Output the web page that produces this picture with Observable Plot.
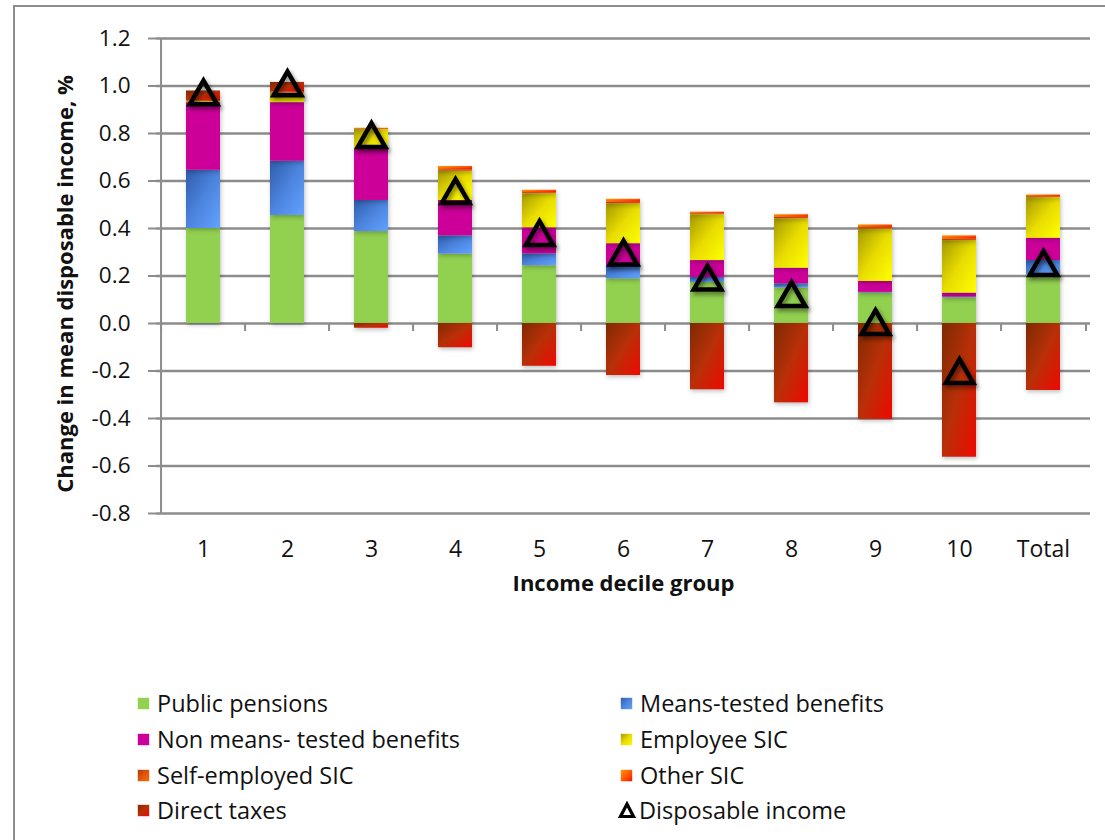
<!DOCTYPE html>
<html>
<head>
<meta charset="utf-8">
<script src="https://cdn.jsdelivr.net/npm/d3@7"></script>
<script src="https://cdn.jsdelivr.net/npm/@observablehq/plot@0.6"></script>
<style>
  html, body { margin: 0; padding: 0; background: #fff; }
  body { width: 1105px; height: 840px; overflow: hidden; position: relative; font-family: "Open Sans", sans-serif; }
  #frame { position: absolute; left: 13px; top: 5px; width: 1200px; height: 1000px; border: 2px solid #8c8c8c; box-sizing: border-box; }
  #chart { position: absolute; left: 0; top: 0; }
  #chart g[aria-label="bar"] rect { filter: drop-shadow(1px 2px 2px rgba(0,0,0,0.25)); }
  #chart g[aria-label="dot"] path { filter: drop-shadow(2px 3px 2px rgba(0,0,0,0.45)); }
  .legend-item { position: absolute; display: flex; align-items: center; font-size: 23.5px; color: #111; white-space: nowrap; }
  .legend-item svg { margin-right: 7px; }
</style>
</head>
<body>
<div id="frame"></div>
<div id="chart"></div>
<div id="legend"></div>
<script>
const categories = ["1", "2", "3", "4", "5", "6", "7", "8", "9", "10", "Total"];
const seriesNames = ["Public pensions", "Means-tested benefits", "Non means- tested benefits", "Employee SIC", "Self-employed SIC", "Other SIC", "Direct taxes"];
const publicPensions   = [0.400, 0.455, 0.387, 0.292, 0.243, 0.188, 0.173, 0.150, 0.128, 0.108, 0.206];
const meansTested      = [0.245, 0.228, 0.131, 0.077, 0.050, 0.053, 0.021, 0.017, 0.003, 0.003, 0.059];
const nonMeansTested   = [0.285, 0.247, 0.215, 0.149, 0.110, 0.095, 0.071, 0.066, 0.046, 0.017, 0.094];
const employeeSIC      = [0.005, 0.040, 0.084, 0.123, 0.143, 0.168, 0.193, 0.208, 0.220, 0.221, 0.171];
const selfEmployedSIC  = [0.002, 0.002, 0.002, 0.006, 0.005, 0.006, 0.004, 0.006, 0.006, 0.006, 0.004];
const otherSIC         = [0.002, 0.002, 0.003, 0.014, 0.010, 0.013, 0.007, 0.011, 0.012, 0.014, 0.007];
const directTaxes      = [0.040, 0.041, -0.020, -0.102, -0.180, -0.219, -0.279, -0.334, -0.404, -0.563, -0.282];
const disposableIncome = [0.975, 1.013, 0.796, 0.560, 0.383, 0.301, 0.195, 0.126, 0.008, -0.198, 0.257];
const yTicks = [1.2, 1.0, 0.8, 0.6, 0.4, 0.2, 0.0, -0.2, -0.4, -0.6, -0.8];

const seriesValues = [publicPensions, meansTested, nonMeansTested, employeeSIC, selfEmployedSIC, otherSIC, directTaxes];
const table = categories.flatMap((c, i) => seriesNames.map((s, j) => ({category: c, series: s, value: seriesValues[j][i]})));
const points = categories.map((c, i) => ({category: c, value: disposableIncome[i]}));

const gradients = [
  ["#92D050", "#92D050", "#92D050"],
  ["#2F5BAA", "#4C84DE", "#62A2FF"],
  ["#CC0099", "#CC0099", "#CC0099"],
  ["#A49800", "#E8DC00", "#FFFF00"],
  ["#A93A06", "#E0560A", "#FF6A10"],
  ["#FF9C00", "#FF5A00", "#FF0A00"],
  ["#7E2A02", "#B83008", "#F00800"]
];
const defs = `<defs>${gradients.map((g, j) => `
  <linearGradient id="g${j}" x1="0" y1="0" x2="1" y2="1">
    <stop offset="0" stop-color="${g[0]}"/><stop offset="0.5" stop-color="${g[1]}"/><stop offset="1" stop-color="${g[2]}"/>
  </linearGradient>`).join("")}</defs>`;

const W = 1105, H = 620, ML = 156, MR = 15, MT = 38, MB = 107;
const step = (W - ML - MR) / categories.length;
const pxPerUnit = (H - MT - MB) / 2.0;
const tickLen = 8 / pxPerUnit;
const grey = "#8c8c8c";

const plot = Plot.plot({
  width: W, height: H,
  marginLeft: ML, marginRight: MR, marginTop: MT, marginBottom: MB,
  style: {fontFamily: "'Open Sans', sans-serif", color: "#111", background: "transparent", overflow: "visible"},
  x: {type: "band", domain: categories, paddingInner: 0.6, paddingOuter: 0.3, label: null},
  y: {domain: [-0.8, 1.2], label: null},
  color: {type: "ordinal", domain: seriesNames, range: seriesNames.map((_, j) => `url(#g${j})`)},
  marks: [
    Plot.ruleY(yTicks, {stroke: grey, strokeWidth: 2.5}),
    Plot.barY(table, {x: "category", y: "value", fill: "series", order: seriesNames}),
    Plot.ruleX([categories[0]], {dx: -step / 2, y1: -0.8, y2: 1.2, stroke: grey, strokeWidth: 2}),
    Plot.ruleX(categories, {dx: -step / 2, y1: 0, y2: -tickLen, stroke: grey, strokeWidth: 2}),
    Plot.ruleX([categories[categories.length - 1]], {dx: step / 2, y1: 0, y2: -tickLen, stroke: grey, strokeWidth: 2}),
    Plot.axisY({ticks: yTicks, tickSize: 8, tickPadding: 18, tickFormat: d => d.toFixed(1), fontSize: 22.5, stroke: grey, strokeWidth: 2, label: null}),
    Plot.axisX({tickSize: 0, tickPadding: 27, fontSize: 23, label: null}),
    Plot.dot(points, {x: "category", y: "value", symbol: "triangle", r: 10.2, dy: 4.5, fill: "none", stroke: "black", strokeWidth: 4.5, strokeLinejoin: "miter"}),
    Plot.text(["Change in mean disposable income, %"], {frameAnchor: "left", dx: -91, dy: 8, rotate: -90, textAnchor: "middle", fontSize: 22, fontWeight: "bold", fill: "#111"}),
    Plot.text(["Income decile group"], {frameAnchor: "bottom", dy: 77, textAnchor: "middle", fontSize: 22, fontWeight: "bold", fill: "#111"})
  ]
});
plot.insertAdjacentHTML("afterbegin", defs);
document.getElementById("chart").appendChild(plot);

// Legend
const legendPos = [
  [0, 137, 703], [1, 620, 703],
  [2, 137, 739], [3, 620, 739],
  [4, 137, 775], [5, 620, 775],
  [6, 137, 810], [7, 618, 810]
];
const legend = document.getElementById("legend");
legendPos.forEach(([j, x, y]) => {
  const div = document.createElement("div");
  div.className = "legend-item";
  div.style.left = x + "px";
  div.style.top = (y - 16) + "px";
  div.style.height = "32px";
  if (j < seriesNames.length) {
    div.innerHTML = `<svg width="13" height="13"><rect x="0.5" y="0.5" width="12" height="12" fill="url(#g${j})" stroke="rgba(255,255,255,0.6)"/></svg><span>${seriesNames[j]}</span>`;
  } else {
    div.innerHTML = `<svg width="18" height="18" style="margin-right:3px"><path d="M9,3 L15.5,15.5 L2.5,15.5 Z" fill="none" stroke="black" stroke-width="3.2" stroke-linejoin="miter"/></svg><span>Disposable income</span>`;
  }
  legend.appendChild(div);
});
</script>
</body>
</html>
